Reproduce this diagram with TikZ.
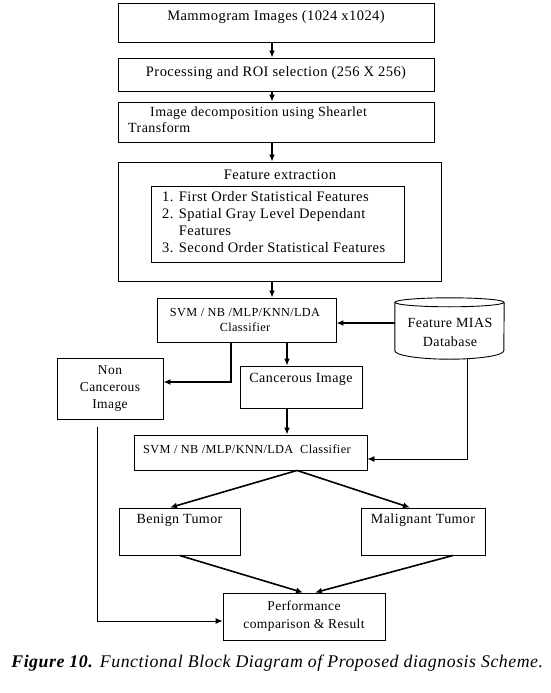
\documentclass[tikz,border=0pt]{standalone}
\usepackage{fontspec}
\setmainfont{Liberation Serif}[LetterSpace=3]
\usetikzlibrary{positioning,arrows.meta}

\begin{document}
\begin{tikzpicture}[x=1pt,y=-1pt,
	box/.style={draw,line width=0.9pt,inner sep=0pt},
	lbl/.style={font=\fontsize{14.5}{15}\selectfont,inner sep=0pt},
	small/.style={font=\fontsize{12.3}{15}\selectfont,inner sep=0pt,align=center},
	arr/.style={line width=1.6pt,-{Latex[length=7pt,width=6pt]}},
	thinarr/.style={line width=0.9pt,-{Latex[length=7pt,width=6pt]}}]
		\useasboundingbox (0,0) rectangle (550,693);
		\coordinate (spine) at (272,0);
		\coordinate (spinetwo) at (287,0);
		% upper chain
		\node[box,minimum width=316pt,minimum height=39pt] (mammo) at (276,22.5) {};
		\node[lbl] (mammotxt) at (276,17) {Mammogram Images (1024 x1024)};
		\node[box,minimum width=316pt,minimum height=33pt] (roi) at (276,74.5) {};
		\node[lbl] (roitxt) at (276,73) {Processing and ROI selection (256 X 256)};
		\node[box,minimum width=316pt,minimum height=40pt] (shear) at (276,122) {};
		\node[lbl,anchor=north west,align=left,font=\fontsize{14}{16}\selectfont] (sheartxt) at (128,107) {\hspace{22pt}Image decomposition using Shearlet\\Transform};
		\node[box,minimum width=323pt,minimum height=119pt] (feat) at (279.5,221.5) {};
		\node[lbl] (feattxt) at (280,175) {Feature extraction};
		\node[box,minimum width=253pt,minimum height=76pt] (list) at (277.5,224) {};
		\node[lbl,anchor=north west,align=left,font=\fontsize{14.5}{17}\selectfont] (listtxt) at (162,191) {1. First Order Statistical Features\\2. Spatial Gray Level Dependant\\\phantom{2. }Features\\3. Second Order Statistical Features};
		% classifiers
		\node[box,minimum width=179pt,minimum height=44pt] (cls1) at (246.5,320) {};
		\node[small] (clstxt) at (245,320) {SVM / NB /MLP/KNN/LDA\\Classifier};
		\node[inner sep=0pt,minimum width=109pt,minimum height=61pt] (db) at (449.5,328.5) {};
		\draw[line width=0.9pt] ([yshift=-4.5pt]db.north) ellipse [x radius=54.5pt,y radius=4.5pt];
		\draw[line width=0.9pt] ([yshift=-4.5pt]db.north west) -- ([yshift=8.5pt]db.south west)
			arc[start angle=180,end angle=360,x radius=54.5pt,y radius=8.5pt] -- ([yshift=-4.5pt]db.north east);
		\node[lbl,align=center,font=\fontsize{14}{19}\selectfont] (dbtxt) at (450,332.5) {Feature MIAS\\Database};
		\node[box,minimum width=106pt,minimum height=61pt,align=center,font=\fontsize{13.5}{17}\selectfont] (noncanc) at (110,388.5) {Non\\Cancerous\\Image};
		\node[box,minimum width=122pt,minimum height=42pt] (canc) at (301,387) {};
		\node[lbl,font=\fontsize{14}{15}\selectfont] (canctxt) at (301,379) {Cancerous Image};
		\node[box,minimum width=233pt,minimum height=35pt] (cls2) at (250.5,452.5) {};
		\node[small,anchor=west] (clstwotxt) at (143,449) {SVM / NB /MLP/KNN/LDA\ \ Classifier};
		% results
		\node[box,minimum width=121pt,minimum height=47pt] (benign) at (179.5,531.5) {};
		\node[lbl,font=\fontsize{14}{15}\selectfont] (benigntxt) at (179.5,520) {Benign Tumor};
		\node[box,minimum width=124pt,minimum height=47pt] (malig) at (423,531.5) {};
		\node[lbl,font=\fontsize{14}{15}\selectfont] (maligtxt) at (423,520) {Malignant Tumor};
		\node[box,minimum width=162pt,minimum height=47pt,align=center,font=\fontsize{13.5}{18}\selectfont] (perf) at (304,616.5) {Performance\\comparison \& Result};
		\node[inner sep=0pt,font=\fontsize{17.8}{19}\selectfont] (caption) at (277.5,663) {\textbf{\textit{Figure 10.}} \textit{Functional Block Diagram of Proposed diagnosis Scheme.}};
		% arrows
		\draw[arr] (spine |- mammo.south) -- (spine |- roi.north);
		\draw[arr] (spine |- roi.south) -- (spine |- shear.north);
		\draw[arr] (spine |- shear.south) -- (spine |- feat.north);
		\draw[arr] (spine |- feat.south) -- (spine |- cls1.north);
		\draw[arr] ([yshift=5.5pt]db.west) -- ([yshift=5.5pt]db.west -| cls1.east);
		\draw[arr] ([xshift=-15.5pt]cls1.south) |- ([yshift=6.5pt]noncanc.east);
		\draw[arr] (spinetwo |- cls1.south) -- (spinetwo |- canc.north);
		\draw[arr] (spinetwo |- canc.south) -- (spinetwo |- cls2.north);
		\draw[thinarr] ([xshift=17.5pt]db.south) |- ([yshift=-6.5pt]cls2.east);
		\draw[arr] ([xshift=46.5pt]cls2.south) -- ([xshift=-9.5pt]benign.north);
		\draw[arr] ([xshift=46.5pt]cls2.south) -- ([xshift=-13pt]malig.north);
		\draw[arr] (benign.south) -- ([xshift=-1pt]perf.north);
		\draw[arr] ([xshift=30pt]malig.south) -- ([xshift=11pt]perf.north);
		\draw[thinarr] ([xshift=-13pt,yshift=-8pt]noncanc.south) |- ([yshift=-4.5pt]perf.west);
	\end{tikzpicture}
\end{document}
